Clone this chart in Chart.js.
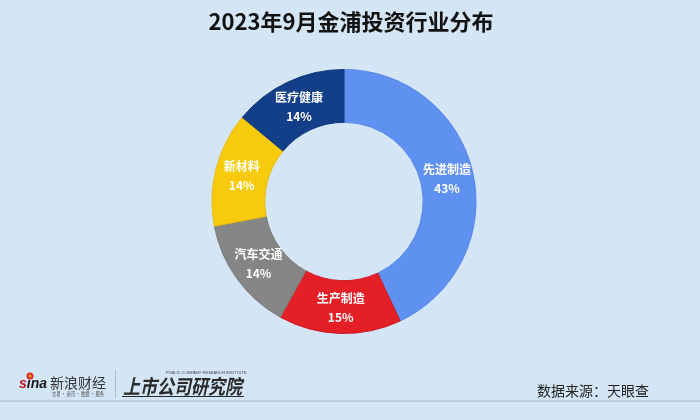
<!DOCTYPE html>
<html>
<head>
<meta charset="utf-8">
<script src="https://cdn.jsdelivr.net/npm/chart.js@4"></script>
<style>
  html, body { margin: 0; padding: 0; background: #d4e6f6; }
  #wrap { width: 700px; height: 420px; position: relative; }
</style>
</head>
<body>
<div id="wrap"><canvas id="industryChart" width="700" height="420"></canvas></div>
<script>
// 数据
var categories = ['先进制造', '生产制造', '汽车交通', '新材料', '医疗健康'];
var shares = [43, 15, 14, 14, 14];
var sliceColors = ['#5f91f1', '#e41f26', '#858585', '#f7cb0c', '#133f88'];
var sliceBorders = ['#5283e6', '#d0181f', '#7a7a7a', '#e9bb00', '#10377a'];

var titleText = '2023年9月金浦投资行业分布';
var sourceText = '数据来源：天眼查';

// 扇区内的标签
var sliceLabels = {
    id: 'sliceLabels',
    afterDatasetsDraw: function(chart) {
        var ctx = chart.ctx;
        var meta = chart.getDatasetMeta(0);
        ctx.save();
        ctx.fillStyle = '#ffffff';
        ctx.textAlign = 'center';
        ctx.textBaseline = 'middle';
        ctx.font = 'bold 12px "Noto Sans CJK SC", sans-serif';
        meta.data.forEach(function(arc, i) {
            var p = arc.tooltipPosition();
            ctx.fillText(categories[i], p.x, p.y - 9);
            ctx.fillText(shares[i] + '%', p.x, p.y + 10);
        });
        ctx.restore();
    }
};

// 标题、底部logo和来源
var decorations = {
    id: 'decorations',
    afterDraw: function(chart) {
        var ctx = chart.ctx;
        ctx.save();
        // 标题
        ctx.fillStyle = '#111111';
        ctx.textAlign = 'center';
        ctx.textBaseline = 'middle';
        ctx.font = 'bold 22px "Noto Sans CJK SC", sans-serif';
        ctx.fillText(titleText, 351, 22);

        // 底部分隔线
        ctx.strokeStyle = '#b7cde2';
        ctx.lineWidth = 2;
        ctx.beginPath();
        ctx.moveTo(0, 401);
        ctx.lineTo(700, 401);
        ctx.stroke();

        // 新浪财经
        ctx.textAlign = 'left';
        ctx.textBaseline = 'alphabetic';
        ctx.font = 'italic bold 14px "Liberation Sans", sans-serif';
        var sW = ctx.measureText('s').width;
        ctx.fillStyle = '#c0161d';
        ctx.fillText('s', 19, 388);
        ctx.fillStyle = '#1a1a1a';
        ctx.fillText('ina', 19 + sW, 388);
        ctx.fillStyle = '#e3262b';
        ctx.beginPath();
        ctx.arc(30, 376, 3.5, 0, Math.PI * 2);
        ctx.fill();
        ctx.fillStyle = '#f6c21a';
        ctx.beginPath();
        ctx.arc(30, 376, 1.5, 0, Math.PI * 2);
        ctx.fill();
        ctx.fillStyle = '#333333';
        ctx.font = '14px "Noto Sans CJK SC", sans-serif';
        ctx.fillText('新浪财经', 50, 388);
        // 小字缩放到logo宽度
        ctx.fillStyle = '#555555';
        ctx.font = '6px "Noto Sans CJK SC", sans-serif';
        var slogan = '交易 · 资讯 · 数据 · 服务';
        var sloganW = ctx.measureText(slogan).width;
        ctx.save();
        ctx.translate(52, 396);
        ctx.scale(52 / sloganW, 1);
        ctx.fillText(slogan, 0, 0);
        ctx.restore();

        // 分隔竖线
        ctx.strokeStyle = '#a9bccd';
        ctx.lineWidth = 1;
        ctx.beginPath();
        ctx.moveTo(115.5, 370);
        ctx.lineTo(115.5, 398);
        ctx.stroke();

        // 上市公司研究院
        ctx.fillStyle = '#2a2a2a';
        ctx.save();
        ctx.translate(123, 394);
        ctx.scale(0.85, 1);
        ctx.font = 'italic bold 20px "Noto Sans CJK SC", sans-serif';
        ctx.fillText('上市公司研究院', 0, 0);
        ctx.restore();
        ctx.font = '4px "Liberation Sans", sans-serif';
        ctx.fillStyle = '#444444';
        ctx.fillText('PUBLIC COMPANY RESEARCH INSTITUTE', 166, 374);
        ctx.strokeStyle = '#2a2a2a';
        ctx.beginPath();
        ctx.moveTo(122, 396.5);
        ctx.lineTo(244, 396.5);
        ctx.stroke();

        // 数据来源
        ctx.fillStyle = '#222222';
        ctx.font = '14px "Noto Sans CJK SC", sans-serif';
        ctx.fillText(sourceText, 537, 396);
        ctx.restore();
    }
};

var ctx = document.getElementById('industryChart').getContext('2d');
var industryChart = new Chart(ctx, {
    type: 'doughnut',
    data: {
        labels: categories,
        datasets: [{
            data: shares,
            backgroundColor: sliceColors,
            borderColor: sliceBorders,
            borderWidth: 1
        }]
    },
    options: {
        responsive: false,
        animation: false,
        events: [],
        cutout: '60%',
        layout: {
            padding: { top: 69, bottom: 86, left: 79, right: 91 }
        },
        plugins: {
            legend: { display: false },
            title: { display: false },
            tooltip: { enabled: false }
        }
    },
    plugins: [sliceLabels, decorations]
});
</script>
</body>
</html>
